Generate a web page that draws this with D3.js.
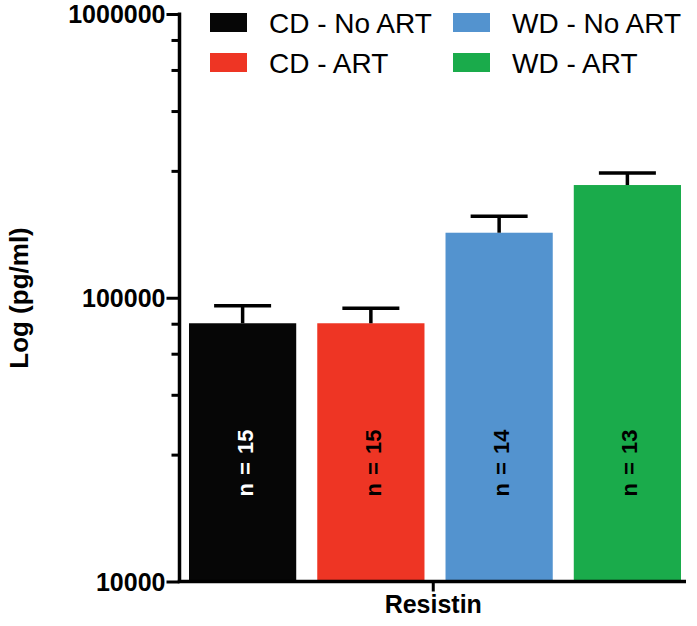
<!DOCTYPE html>
<html>
<head>
<meta charset="utf-8">
<script src="https://cdn.jsdelivr.net/npm/d3@7"></script>
<style>
  html, body { margin: 0; padding: 0; background: #fff; }
  svg { display: block; font-family: "Liberation Sans", Arial, sans-serif; }
</style>
</head>
<body>
<svg id="chart" width="697" height="626"></svg>
<script>
// ---- data ----
const categories = ["CD - No ART", "CD - ART", "WD - No ART", "WD - ART"];
const means = [81300, 81300, 169500, 249600];
const errorTops = [93800, 91800, 193700, 275300];
const nLabels = ["n = 15", "n = 15", "n = 14", "n = 13"];
const colors = ["#060606", "#EE3524", "#5393CF", "#1AAB4B"];
const majorTicks = [10000, 100000, 1000000];
const minorTicks = [28000, 45500, 63500, 81000, 280000, 455000, 635000, 810000];
const groupLabel = "Resistin";
const yTitle = "Log (pg/ml)";

// ---- layout ----
const svg = d3.select("#chart");
const axisX = 179.5, axisBottom = 581.5, axisTop = 14, axisRight = 686;

const y = d3.scaleLog().domain([10000, 1000000]).range([axisBottom, axisTop]);
const x = d3.scaleBand().domain(categories).range([189, 681]).paddingInner(0.164);

// bars
svg.append("g").selectAll("rect").data(categories).join("rect")
  .attr("x", d => x(d))
  .attr("width", x.bandwidth())
  .attr("y", (d, i) => y(means[i]))
  .attr("height", (d, i) => axisBottom - y(means[i]))
  .attr("fill", (d, i) => colors[i]);

// error bars
const eg = svg.append("g").attr("stroke", "#000").attr("stroke-width", 3.5);
categories.forEach((c, i) => {
  const cx = x(c) + x.bandwidth() / 2;
  eg.append("line").attr("x1", cx).attr("x2", cx).attr("y1", y(means[i])).attr("y2", y(errorTops[i]));
  eg.append("line").attr("x1", cx - 28.5).attr("x2", cx + 28.5).attr("y1", y(errorTops[i])).attr("y2", y(errorTops[i]));
});

// n labels
categories.forEach((c, i) => {
  const cx = x(c) + x.bandwidth() / 2;
  svg.append("text")
    .attr("transform", `translate(${cx + 10},463) rotate(-90)`)
    .attr("text-anchor", "middle")
    .attr("font-weight", "bold")
    .attr("font-size", 22)
    .attr("word-spacing", 2)
    .attr("fill", i === 0 ? "#fff" : "#000")
    .text(nLabels[i]);
});

// y axis
const yAxis = d3.axisLeft(y).tickValues(majorTicks).tickFormat(d3.format("d")).tickSize(13).tickSizeOuter(0);
const gy = svg.append("g").attr("transform", `translate(${axisX},0)`).call(yAxis);
gy.select(".domain").attr("stroke-width", 3.5).attr("d", `M0,${axisTop - 1.5}V${axisBottom + 1.5}`);
gy.selectAll(".tick line").attr("stroke-width", 3);
gy.selectAll(".tick text").attr("font-size", 25).attr("font-weight", "bold")
  .attr("font-family", "Liberation Sans, Arial, sans-serif").attr("fill", "#000").attr("dy", "0.35em").attr("x", -14);

const yMinor = d3.axisLeft(y).tickValues(minorTicks).tickFormat("").tickSize(8).tickSizeOuter(0);
const gym = svg.append("g").attr("transform", `translate(${axisX},0)`).call(yMinor);
gym.select(".domain").remove();
gym.selectAll(".tick line").attr("stroke-width", 3);

// x axis
const xs = d3.scalePoint().domain([groupLabel]).range([axisX, axisRight]).padding(0.5);
const xAxis = d3.axisBottom(xs).tickSize(10).tickSizeOuter(0);
const gx = svg.append("g").attr("transform", `translate(0,${axisBottom})`).call(xAxis);
gx.select(".domain").attr("stroke-width", 3.5).attr("d", `M${axisX - 1.75},0H${axisRight}`);
gx.selectAll(".tick line").attr("stroke-width", 3);
gx.selectAll(".tick text").attr("font-size", 25).attr("font-weight", "bold")
  .attr("font-family", "Liberation Sans, Arial, sans-serif").attr("fill", "#000").attr("y", 14);

// y title
svg.append("text")
  .attr("transform", "translate(28,298) rotate(-90)")
  .attr("text-anchor", "middle")
  .attr("font-size", 26)
  .attr("font-weight", "bold")
  .text(yTitle);

// legend
const legendPos = [[210, 13], [210, 53], [453, 13], [453, 53]];
categories.forEach((c, i) => {
  const [lx, ly] = legendPos[i];
  svg.append("rect").attr("x", lx).attr("y", ly).attr("width", 37).attr("height", 19).attr("fill", colors[i]);
  svg.append("text").attr("x", lx + 59).attr("y", ly + 19.5).attr("font-size", 28).attr("fill", "#000").text(c);
});
</script>
</body>
</html>
